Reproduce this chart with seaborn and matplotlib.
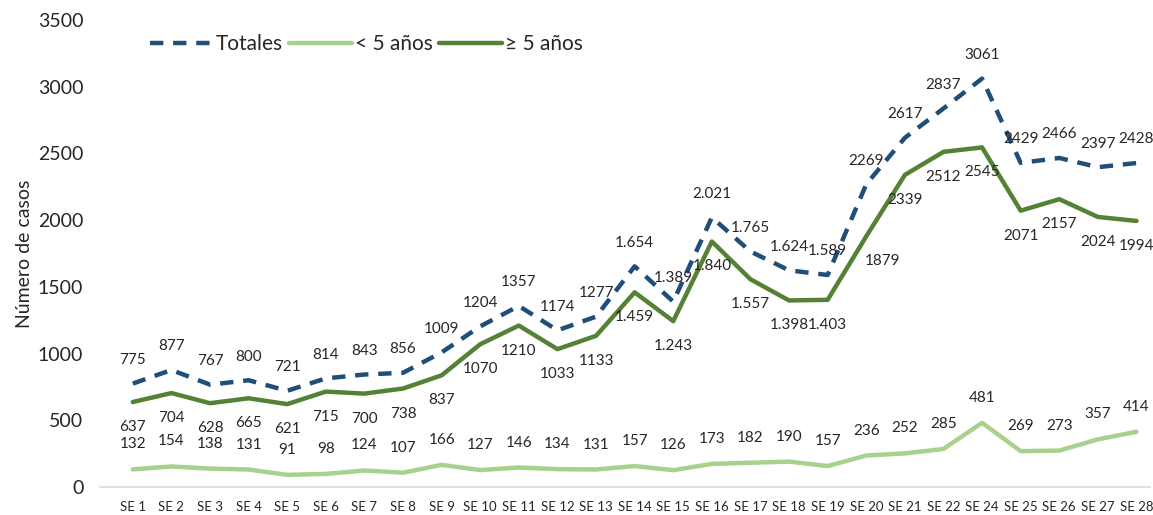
import matplotlib
matplotlib.use("Agg")
import matplotlib.pyplot as plt
import seaborn as sns
import pandas as pd

# Semanas epidemiológicas (no hay SE 23 en el original)
semanas = [f"SE {i}" for i in list(range(1, 23)) + list(range(24, 29))]

totales = [775, 877, 767, 800, 721, 814, 843, 856, 1009, 1204, 1357, 1174, 1277,
           1654, 1389, 2021, 1765, 1624, 1589, 2269, 2617, 2837, 3061, 2429, 2466, 2397, 2428]
menores5 = [132, 154, 138, 131, 91, 98, 124, 107, 166, 127, 146, 134, 131,
            157, 126, 173, 182, 190, 157, 236, 252, 285, 481, 269, 273, 357, 414]
mayores5 = [637, 704, 628, 665, 621, 715, 700, 738, 837, 1070, 1210, 1033, 1133,
            1459, 1243, 1840, 1557, 1398, 1403, 1879, 2339, 2512, 2545, 2071, 2157, 2024, 1994]

# semanas cuyas etiquetas llevan separador de miles "."
semanas_con_punto = ["SE 14", "SE 15", "SE 16", "SE 17", "SE 18", "SE 19"]

C_TOT = "#1F4E79"
C_MEN = "#A9D18E"
C_MAY = "#548235"

sns.set_style("white")
plt.rcParams["font.family"] = ["Lato", "DejaVu Sans"]

df = pd.DataFrame({"semana": semanas, "Totales": totales,
                   "< 5 años": menores5, "≥ 5 años": mayores5})

fig = plt.figure(figsize=(11.53, 5.15), dpi=100)
ax = fig.add_axes([100 / 1153, 28 / 515, 1050 / 1153, 467 / 515])

sns.lineplot(data=df, x="semana", y="Totales", color=C_TOT, lw=3.2, ax=ax,
             sort=False, label="Totales", linestyle=(0, (3, 2.2)))
sns.lineplot(data=df, x="semana", y="< 5 años", color=C_MEN, lw=3.2, ax=ax,
             sort=False, label="< 5 años")
sns.lineplot(data=df, x="semana", y="≥ 5 años", color=C_MAY, lw=3.2, ax=ax,
             sort=False, label="≥ 5 años")


def fmt(v, sem):
    if sem in semanas_con_punto:
        return f"{v:,}".replace(",", ".")
    return str(v)


for i, sem in enumerate(semanas):
    ax.annotate(fmt(totales[i], sem), (i, totales[i]), xytext=(0, 17),
                textcoords="offset points", ha="center", va="center",
                fontsize=11, color="#262626")
    ax.annotate(str(menores5[i]), (i, menores5[i]), xytext=(0, 18),
                textcoords="offset points", ha="center", va="center",
                fontsize=11, color="#262626")
    dx = 12 if sem == "SE 20" else 0
    ax.annotate(fmt(mayores5[i], sem), (i, mayores5[i]), xytext=(dx, -18),
                textcoords="offset points", ha="center", va="center",
                fontsize=11, color="#262626")

ax.set_xlim(-0.85, 26.35)
ax.set_ylim(0, 3500)
ax.set_yticks(range(0, 3501, 500))
ax.tick_params(axis="y", labelsize=14, length=0, pad=12)
ax.tick_params(axis="x", labelsize=9.5, length=0, pad=10)
ax.set_xlabel("")
ax.set_ylabel("Número de casos", fontsize=14)
ax.yaxis.set_label_coords(-0.064, 0.5)

for s in ["top", "right", "left"]:
    ax.spines[s].set_visible(False)
ax.spines["bottom"].set_color("#D9D9D9")
ax.spines["bottom"].set_linewidth(1.2)

leg = ax.legend(loc="upper left", bbox_to_anchor=(0.03, 1.01), ncol=3, frameon=False,
                fontsize=15, handlelength=3.0, handletextpad=0.15, columnspacing=0.3)

fig.savefig("out.png", dpi=100)
